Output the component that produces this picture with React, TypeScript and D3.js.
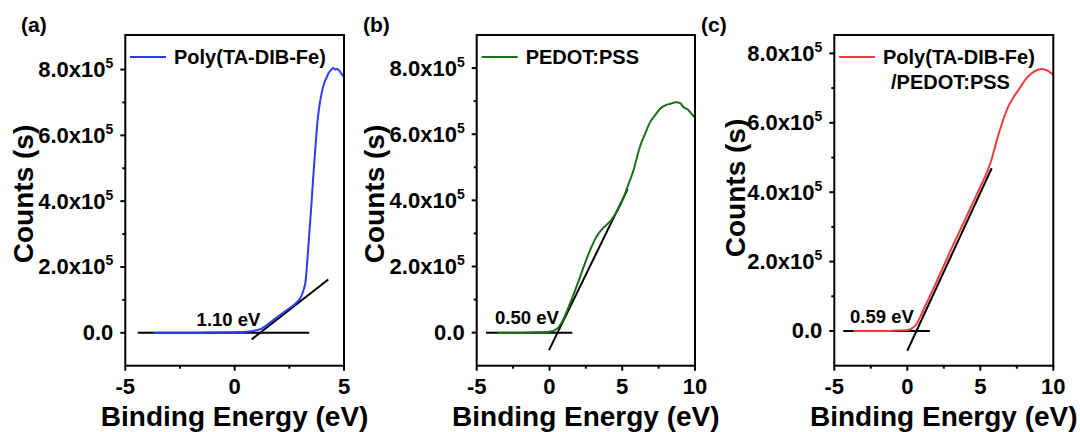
import React from 'react';
import * as d3 from 'd3';

// panel (a) Poly(TA-DIB-Fe)
const aEnergy = [-3.7, -2, -1, 0, 0.5, 0.8, 1.0, 1.2, 1.4, 1.6, 2.0, 2.4, 2.8, 3.0, 3.15, 3.25, 3.3, 3.4, 3.5, 3.6, 3.7, 3.8, 3.9, 4.0, 4.1, 4.2, 4.3, 4.4, 4.5, 4.6, 4.7, 4.8, 4.9, 5.0];
const aCounts = [0, 0, 0.01, 0.02, 0.03, 0.05, 0.08, 0.12, 0.2, 0.3, 0.5, 0.7, 0.9, 1.05, 1.3, 1.6, 2.0, 2.9, 3.8, 4.8, 5.7, 6.5, 7.0, 7.35, 7.6, 7.75, 7.9, 7.98, 8.05, 8.0, 8.02, 7.95, 7.85, 7.78];

// panel (b) PEDOT:PSS
const bEnergy = [-3.6, -2, -1, 0, 0.3, 0.6, 0.9, 1.2, 1.5, 1.8, 2.1, 2.4, 2.7, 3.0, 3.3, 3.6, 3.9, 4.2, 4.5, 4.8, 5.1, 5.4, 5.8, 6.2, 6.6, 6.9, 7.3, 7.6, 8.0, 8.3, 8.7, 9.0, 9.2, 9.5, 9.8, 10];
const bCounts = [0, 0, 0.01, 0.03, 0.06, 0.15, 0.35, 0.65, 0.98, 1.32, 1.68, 2.05, 2.4, 2.7, 2.95, 3.12, 3.25, 3.38, 3.57, 3.8, 4.1, 4.45, 4.95, 5.6, 6.05, 6.35, 6.6, 6.77, 6.88, 6.92, 6.97, 6.93, 6.82, 6.75, 6.6, 6.5];

// panel (c) Poly(TA-DIB-Fe)/PEDOT:PSS
const cEnergy = [-3.7, -2, -1, 0, 0.3, 0.6, 0.9, 1.2, 1.6, 2.0, 2.5, 3.0, 3.5, 4.0, 4.5, 5.0, 5.5, 5.8, 6.1, 6.5, 6.9, 7.3, 7.7, 8.1, 8.5, 8.9, 9.2, 9.5, 9.8, 10];
const cCounts = [0, 0, 0.01, 0.03, 0.07, 0.18, 0.42, 0.7, 1.05, 1.42, 1.88, 2.35, 2.8, 3.25, 3.7, 4.15, 4.62, 4.98, 5.45, 6.0, 6.45, 6.75, 7.0, 7.25, 7.42, 7.52, 7.55, 7.52, 7.45, 7.38];

// onset fits: [x1, y1, x2, y2] in eV / 1e5 counts, baseline [xStart, xEnd]
const aTangent = [0.78, -0.2, 4.28, 1.62];
const aBaseline = [-4.43, 3.41];
const bTangent = [-0.03, -0.53, 5.37, 4.34];
const bBaseline = [-4.36, 1.57];
const cTangent = [0.0, -0.57, 5.78, 4.69];
const cBaseline = [-4.38, 1.55];

const onsetLabels = ['1.10 eV', '0.50 eV', '0.59 eV'];
const onsetPos = [[-1.74, 0.2], [-3.74, 0.25], [-3.92, 0.24]];

const yTicks = [0, 2, 4, 6, 8];
const yMinor = [1, 3, 5, 7];
const xTicksA = [-5, 0, 5];
const xMinorA = [-2.5, 2.5];
const xTicksBC = [-5, 0, 5, 10];
const xMinorBC = [-2.5, 2.5, 7.5];

const FONT = '"Liberation Sans", Arial, sans-serif';

const panels = [
  { tag: '(a)', tagX: 21, left: 125.3, right: 344, xDom: [-5, 5], yDom: [-1, 9.05], xt: xTicksA, xm: xMinorA,
    ex: aEnergy, ct: aCounts, color: '#2a3ef2', legend: ['Poly(TA-DIB-Fe)'], legX: 130,
    tangent: aTangent, base: aBaseline, ylabX: 32.5, ylabY: 194 },
  { tag: '(b)', tagX: 363, left: 476.7, right: 695, xDom: [-5, 10], yDom: [-1, 9.0], xt: xTicksBC, xm: xMinorBC,
    ex: bEnergy, ct: bCounts, color: '#1c6e1c', legend: ['PEDOT:PSS'], legX: 481.7,
    tangent: bTangent, base: bBaseline, ylabX: 384, ylabY: 194 },
  { tag: '(c)', tagX: 701, left: 834.3, right: 1053.3, xDom: [-5, 10], yDom: [-1, 8.53], xt: xTicksBC, xm: xMinorBC,
    ex: cEnergy, ct: cCounts, color: '#f03c3c', legend: ['Poly(TA-DIB-Fe)', '/PEDOT:PSS'], legX: 839,
    tangent: cTangent, base: cBaseline, ylabX: 745, ylabY: 188 },
];

const TOP = 35;
const BOTTOM = 365.7;

function Panel({ p, i }: { p: any; i: number }) {
  const x = d3.scaleLinear().domain(p.xDom).range([p.left, p.right]);
  const y = d3.scaleLinear().domain(p.yDom).range([BOTTOM, TOP]);
  const line = d3.line<number>().x((_, k) => x(p.ex[k])).y((d) => y(d)).curve(d3.curveMonotoneX);
  const [t1x, t1y, t2x, t2y] = p.tangent;
  const cx = (p.left + p.right) / 2;
  return (
    <g fontFamily={FONT} fontWeight="bold">
      <text x={p.tagX} y={32} fontSize={21}>{p.tag}</text>
      {/* onset lines */}
      <line x1={x(p.base[0])} x2={x(p.base[1])} y1={y(0)} y2={y(0)} stroke="#000" strokeWidth={2} />
      <line x1={x(t1x)} y1={y(t1y)} x2={x(t2x)} y2={y(t2y)} stroke="#000" strokeWidth={2} />
      {/* curve */}
      <path d={line(p.ct) || ''} fill="none" stroke={p.color} strokeWidth={2} strokeLinejoin="round" />
      <text x={x(onsetPos[i][0])} y={y(onsetPos[i][1])} fontSize={18.5}>{onsetLabels[i]}</text>
      {/* frame */}
      <rect x={p.left} y={TOP} width={p.right - p.left} height={BOTTOM - TOP} fill="none" stroke="#000" strokeWidth={2} />
      {/* y ticks */}
      {yTicks.map((v) => (
        <g key={'y' + v}>
          <line x1={p.left - 5} x2={p.left} y1={y(v)} y2={y(v)} stroke="#000" strokeWidth={2} />
          <text x={p.left - 12} y={y(v) + 7.5} fontSize={22} textAnchor="end">
            {v === 0 ? '0.0' : `${v.toFixed(1)}x10`}
            {v !== 0 && <tspan fontSize={14} dy={-9}>5</tspan>}
          </text>
        </g>
      ))}
      {yMinor.filter((v) => v <= p.yDom[1]).map((v) => (
        <line key={'ym' + v} x1={p.left - 3} x2={p.left} y1={y(v)} y2={y(v)} stroke="#000" strokeWidth={2} />
      ))}
      {/* x ticks */}
      {p.xt.map((v: number) => (
        <g key={'x' + v}>
          <line x1={x(v)} x2={x(v)} y1={BOTTOM} y2={BOTTOM + 5} stroke="#000" strokeWidth={2} />
          <text x={x(v)} y={394} fontSize={22} textAnchor="middle">{v}</text>
        </g>
      ))}
      {p.xm.map((v: number) => (
        <line key={'xm' + v} x1={x(v)} x2={x(v)} y1={BOTTOM} y2={BOTTOM + 3} stroke="#000" strokeWidth={2} />
      ))}
      {/* axis titles */}
      <text x={cx} y={426} fontSize={28} textAnchor="middle">Binding Energy (eV)</text>
      <text transform={`translate(${p.ylabX},${p.ylabY}) rotate(-90)`} fontSize={28} textAnchor="middle">Counts (s)</text>
      {/* legend */}
      <line x1={p.legX} x2={p.legX + 36} y1={57} y2={57} stroke={p.color} strokeWidth={2} />
      <text x={p.legX + 44} y={64} fontSize={20}>{p.legend[0]}</text>
      {p.legend[1] && <text x={p.legX + 52} y={88.5} fontSize={20}>{p.legend[1]}</text>}
    </g>
  );
}

export default function App() {
  return (
    <svg width={1080} height={432} style={{ position: 'absolute', left: 0, top: 0, background: '#fff' }}>
      {panels.map((p, i) => (
        <Panel key={p.tag} p={p} i={i} />
      ))}
    </svg>
  );
}
